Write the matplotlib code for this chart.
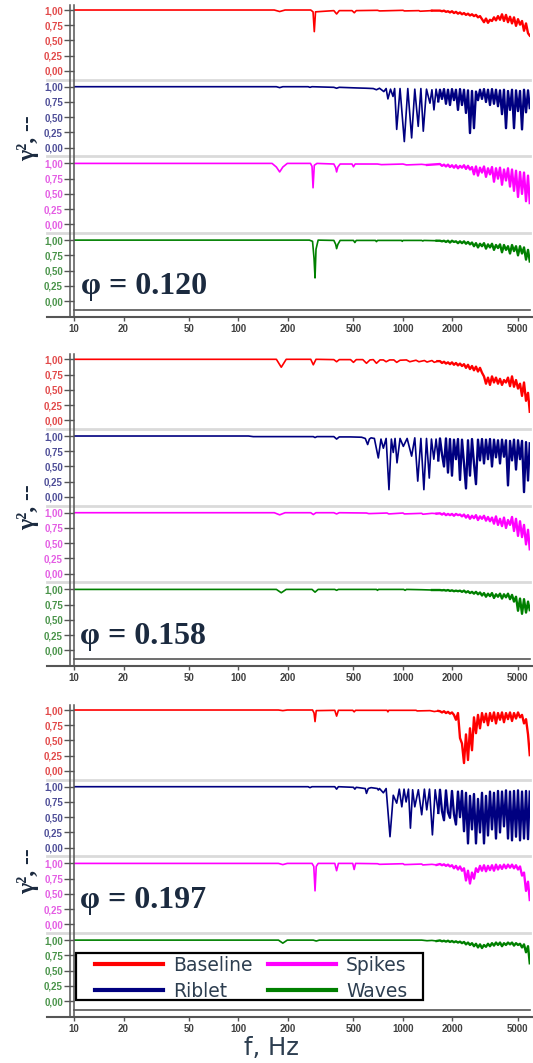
import matplotlib.pyplot as plt
from matplotlib.lines import Line2D
from matplotlib.patches import Rectangle
from matplotlib.ticker import NullLocator

plt.rcParams['font.family'] = ['Liberation Sans', 'DejaVu Sans']

# shared frequency bins of the dense high-frequency part (Hz)
f_hi = [1679, 1727, 1776, 1826, 1878, 1931, 1986, 2042, 2100, 2160,
        2222, 2285, 2350, 2416, 2485, 2555, 2628, 2702, 2779, 2858,
        2940, 3023, 3109, 3197, 3288, 3381, 3477, 3576, 3677, 3782,
        3890, 4000, 4113, 4230, 4350, 4475, 4602, 4732, 4867, 5005,
        5148, 5294, 5444, 5599, 5758, 5900]

# ---- phi = 0.120 ----
f_lo_b1 = [10, 165, 178, 192, 275, 284, 289, 294, 380, 395, 410, 490, 506, 520, 700, 720, 1000, 1020, 1250, 1270, 1500]
g_lo_b1 = [1.0, 1.0, 0.975, 1.0, 1.0, 0.97, 0.645, 0.97, 0.99, 0.935, 0.99, 0.99, 0.955, 0.99, 0.995, 0.985, 0.995, 0.985, 0.99, 0.98, 0.99]
g_hi_b1 = [0.99, 0.98, 0.99, 0.97, 0.98, 0.96, 0.98, 0.95, 0.97, 0.94, 0.96, 0.93,
           0.95, 0.92, 0.94, 0.91, 0.93, 0.90, 0.92, 0.88, 0.90,
           0.85, 0.80, 0.86, 0.79, 0.84, 0.82, 0.88, 0.83,
           0.90, 0.84, 0.93, 0.82, 0.92, 0.80, 0.89,
           0.78, 0.88, 0.74, 0.85, 0.76,
           0.82, 0.66, 0.78, 0.62, 0.58]

f_lo_r1 = [10, 170, 178, 186, 265, 272, 280, 380, 395, 410, 520, 600, 660, 690, 720, 765, 790, 810, 840, 870,
           890, 916, 960, 1019, 1070, 1129, 1180, 1238, 1285, 1329, 1390, 1459, 1500, 1543, 1590, 1639]
g_lo_r1 = [1.0, 1.0, 0.985, 1.0, 1.0, 0.99, 1.0, 0.99, 0.975, 0.99, 0.98, 0.975, 0.97, 0.95, 0.975, 0.92, 0.97, 0.80, 0.96, 0.84,
           0.97, 0.30, 0.97, 0.10, 0.97, 0.16, 0.96, 0.35, 0.97, 0.27, 0.96, 0.73, 0.95, 0.62, 0.96, 0.76]
g_hi_r1 = [0.95, 0.80, 0.96, 0.72, 0.95, 0.70, 0.96, 0.78, 0.95, 0.62,
           0.96, 0.70, 0.95, 0.57, 0.94, 0.24, 0.93, 0.32, 0.92, 0.78,
           0.95, 0.80, 0.96, 0.75, 0.95, 0.70, 0.96, 0.72, 0.95, 0.68,
           0.94, 0.55, 0.95, 0.32, 0.93, 0.62, 0.95, 0.32, 0.94, 0.60,
           0.93, 0.30, 0.95, 0.58, 0.94, 0.65]

f_lo_s1 = [10, 160, 170, 178, 186, 198, 274, 280, 284, 289, 300, 380, 390, 395, 402, 415, 490, 500, 512, 700, 740, 1000, 1050, 1300, 1400]
g_lo_s1 = [1.0, 1.0, 0.94, 0.86, 0.94, 1.0, 1.0, 0.95, 0.60, 0.97, 1.0, 0.99, 0.93, 0.86, 0.94, 0.99, 0.99, 0.945, 0.99, 0.99, 0.98, 0.99, 0.975, 0.985, 0.975]
g_hi_s1 = [0.99, 0.96, 0.98, 0.95, 0.98, 0.94, 0.97, 0.93, 0.97, 0.92, 0.96, 0.93, 0.97, 0.91, 0.96, 0.90,
           0.94, 0.82, 0.95, 0.80, 0.93, 0.85, 0.95, 0.78, 0.92, 0.82,
           0.94, 0.70, 0.92, 0.75, 0.93, 0.65, 0.90, 0.72, 0.92, 0.62,
           0.90, 0.55, 0.88, 0.45, 0.86, 0.50, 0.85, 0.38, 0.80, 0.35]

f_lo_w1 = [10, 270, 282, 288, 292, 296, 305, 380, 390, 395, 402, 415, 500, 510, 520, 680, 690, 700, 980, 990, 1000, 1300, 1320, 1340, 1600]
g_lo_w1 = [1.0, 1.0, 0.98, 0.70, 0.38, 0.85, 1.0, 0.995, 0.93, 0.86, 0.93, 0.995, 0.995, 0.96, 0.995, 0.995, 0.975, 0.995, 0.995, 0.98, 0.995, 0.995, 0.985, 0.995, 0.99]
g_hi_w1 = [0.99, 0.98, 0.99, 0.97, 0.99, 0.96, 0.99, 0.97, 0.98, 0.95, 0.98,
           0.95, 0.98, 0.94, 0.97, 0.93, 0.96, 0.90, 0.95, 0.88, 0.94,
           0.90, 0.95, 0.86, 0.93, 0.88, 0.94, 0.84, 0.92, 0.87, 0.93,
           0.80, 0.92, 0.84, 0.90, 0.78, 0.92, 0.82, 0.90,
           0.75, 0.90, 0.78, 0.88, 0.68, 0.84, 0.65]

# ---- phi = 0.158 ----
f_lo_b2 = [10, 170, 182, 195, 275, 285, 296, 380, 395, 410, 480, 500, 520, 570, 600, 630, 660, 690, 725, 760,
           790, 830, 880, 916, 960, 1050, 1100, 1200, 1250, 1350, 1400, 1500, 1550, 1620]
g_lo_b2 = [1.0, 1.0, 0.87, 1.0, 1.0, 0.91, 1.0, 0.995, 0.96, 0.995, 0.995, 0.95, 0.995, 0.995, 0.935, 0.99, 0.995, 0.935, 0.99, 0.99,
           0.96, 0.99, 0.99, 0.95, 0.985, 0.99, 0.96, 0.985, 0.96, 0.98, 0.955, 0.98, 0.95, 0.97]
g_hi_b2 = [0.97, 0.94, 0.96, 0.93, 0.95, 0.92, 0.95, 0.91, 0.94, 0.90, 0.93,
           0.89, 0.92, 0.86, 0.91, 0.84, 0.89, 0.82, 0.88, 0.80, 0.86, 0.78,
           0.72, 0.60, 0.70, 0.58, 0.72, 0.62, 0.70, 0.60, 0.68, 0.58, 0.66, 0.62, 0.70, 0.56,
           0.72, 0.55, 0.66, 0.52, 0.60,
           0.40, 0.62, 0.32, 0.45, 0.14]

f_lo_r2 = [10, 115, 123, 250, 285, 292, 300, 380, 395, 410, 480, 560, 590, 610, 625, 640, 670, 708, 735, 760,
           790, 822, 850, 873, 895, 920, 960, 1005, 1060, 1129, 1180, 1230, 1285, 1340, 1390, 1445, 1490, 1540, 1590, 1640]
g_lo_r2 = [1.0, 1.0, 0.99, 0.99, 0.99, 0.975, 0.99, 0.99, 0.95, 0.985, 0.985, 0.98, 0.96, 0.86, 0.95, 0.97, 0.96, 0.64, 0.95, 0.80,
           0.96, 0.12, 0.95, 0.73, 0.96, 0.56, 0.96, 0.83, 0.96, 0.67, 0.97, 0.26, 0.96, 0.12, 0.96, 0.31, 0.95, 0.62, 0.95, 0.60]
g_hi_r2 = [0.96, 0.70, 0.50, 0.96, 0.40, 0.95, 0.35, 0.94, 0.62, 0.95,
           0.28, 0.94, 0.55, 0.14, 0.93, 0.35, 0.95, 0.55, 0.21, 0.94,
           0.60, 0.95, 0.55, 0.94, 0.62, 0.95, 0.50, 0.94, 0.65, 0.93,
           0.55, 0.94, 0.66, 0.93, 0.19, 0.92, 0.60, 0.94, 0.45, 0.93,
           0.62, 0.92, 0.08, 0.90, 0.27, 0.88]

f_lo_s2 = [10, 165, 178, 192, 275, 285, 296, 380, 395, 410, 600, 620, 800, 820, 1000, 1020, 1300, 1320, 1500, 1600]
g_lo_s2 = [1.0, 1.0, 0.965, 1.0, 1.0, 0.97, 1.0, 1.0, 0.98, 1.0, 0.995, 0.985, 0.995, 0.98, 0.995, 0.98, 0.99, 0.975, 0.99, 0.985]
g_hi_s2 = [0.99, 0.97, 0.99, 0.96, 0.98, 0.96, 0.98, 0.95, 0.98, 0.96, 0.97, 0.94,
           0.97, 0.92, 0.96, 0.90, 0.95, 0.91, 0.96, 0.88, 0.94, 0.90, 0.95, 0.87, 0.93, 0.86,
           0.92, 0.82, 0.94, 0.80, 0.90, 0.78, 0.92, 0.75, 0.88, 0.80, 0.93,
           0.70, 0.90, 0.62, 0.86, 0.60, 0.80, 0.48, 0.72, 0.40]

f_lo_w2 = [10, 170, 182, 195, 280, 292, 305, 385, 395, 405, 690, 700, 710, 1010, 1030, 1050, 1300, 1500]
g_lo_w2 = [1.0, 1.0, 0.945, 1.0, 1.0, 0.955, 1.0, 1.0, 0.985, 1.0, 1.0, 0.985, 1.0, 1.0, 0.985, 1.0, 0.995, 0.99]
g_hi_w2 = [0.99, 0.985, 0.99, 0.98, 0.99, 0.975, 0.985, 0.97, 0.98, 0.97, 0.98,
           0.96, 0.98, 0.95, 0.97, 0.94, 0.96, 0.93, 0.96, 0.92, 0.95, 0.90,
           0.94, 0.88, 0.93, 0.89, 0.94, 0.86, 0.92, 0.88, 0.93, 0.85, 0.92, 0.87, 0.93, 0.84, 0.91,
           0.80, 0.88, 0.65, 0.85, 0.60, 0.84, 0.62, 0.80, 0.66]

# ---- phi = 0.197 ----
f_lo_b3 = [10, 175, 186, 198, 282, 288, 292, 297, 385, 395, 405, 495, 505, 515, 800, 810, 820, 1200, 1220, 1460, 1550, 1640]
g_lo_b3 = [1.0, 1.0, 0.99, 1.0, 1.0, 0.95, 0.81, 0.99, 0.995, 0.90, 0.995, 0.995, 0.97, 0.995, 0.995, 0.97, 0.995, 0.995, 0.985, 0.99, 0.975, 0.985]
g_hi_b3 = [0.98, 0.96, 0.98, 0.95, 0.97, 0.94, 0.96, 0.92,
           0.84, 0.95, 0.54, 0.45, 0.13, 0.60, 0.18, 0.70, 0.34, 0.88, 0.62, 0.92,
           0.70, 0.95, 0.80, 0.94, 0.75, 0.95, 0.82, 0.96, 0.78, 0.95,
           0.84, 0.96, 0.80, 0.95, 0.85, 0.96, 0.82, 0.95, 0.86, 0.96,
           0.88, 0.92, 0.78, 0.85, 0.60, 0.26]

f_lo_r3 = [10, 265, 272, 280, 385, 395, 405, 500, 510, 520, 590, 600, 615, 640, 700, 708, 720, 760, 790, 834,
           873, 916, 950, 984, 1015, 1045, 1080, 1110, 1145, 1180, 1240, 1300, 1350, 1395, 1450, 1510, 1570, 1640]
g_lo_r3 = [1.0, 1.0, 0.985, 1.0, 1.0, 0.96, 1.0, 0.99, 0.96, 0.99, 0.97, 0.89, 0.97, 0.985, 0.97, 0.945, 0.97, 0.90, 0.97, 0.18,
           0.86, 0.73, 0.96, 0.67, 0.96, 0.75, 0.96, 0.32, 0.95, 0.67, 0.95, 0.54, 0.96, 0.62, 0.96, 0.21, 0.95, 0.57]
g_hi_r3 = [0.95, 0.60, 0.45, 0.94, 0.58, 0.49, 0.93, 0.55, 0.38, 0.92,
           0.50, 0.93, 0.27, 0.90, 0.07, 0.85, 0.30, 0.88, 0.07, 0.80,
           0.25, 0.90, 0.07, 0.85, 0.20, 0.92, 0.30, 0.90, 0.15, 0.93,
           0.25, 0.92, 0.35, 0.94, 0.15, 0.92, 0.12, 0.93, 0.18, 0.94,
           0.12, 0.92, 0.15, 0.93, 0.14, 0.92]

f_lo_s3 = [10, 175, 186, 198, 280, 287, 292, 297, 305, 385, 395, 405, 495, 505, 515, 700, 720, 1000, 1020, 1300, 1320, 1500, 1600]
g_lo_s3 = [1.0, 1.0, 0.98, 1.0, 1.0, 0.95, 0.55, 0.95, 1.0, 1.0, 0.88, 1.0, 1.0, 0.90, 1.0, 0.995, 0.985, 0.995, 0.98, 0.99, 0.975, 0.985, 0.975]
g_hi_s3 = [0.99, 0.97, 0.985, 0.96, 0.98, 0.95,
           0.97, 0.92, 0.96, 0.90, 0.95, 0.88,
           0.92, 0.72, 0.88, 0.67, 0.85, 0.75, 0.92,
           0.86, 0.96, 0.88, 0.97, 0.87, 0.96, 0.89, 0.97, 0.88, 0.98,
           0.90, 0.97, 0.91, 0.98, 0.92, 0.98, 0.93, 0.98, 0.92, 0.97, 0.90,
           0.95, 0.80, 0.85, 0.55, 0.70, 0.40]

f_lo_w3 = [10, 175, 186, 198, 285, 297, 310, 1300, 1400, 1500, 1600]
g_lo_w3 = [1.0, 1.0, 0.95, 1.0, 1.0, 0.985, 1.0, 1.0, 0.99, 0.995, 0.985]
g_hi_w3 = [0.995, 0.98, 0.99, 0.975, 0.99, 0.97, 0.985, 0.965, 0.98, 0.96, 0.975,
           0.95, 0.97, 0.93, 0.96, 0.92, 0.95, 0.90, 0.94, 0.88, 0.93, 0.87, 0.92, 0.89, 0.94,
           0.90, 0.95, 0.91, 0.96, 0.92, 0.96, 0.90, 0.95, 0.92, 0.96, 0.93, 0.96, 0.91, 0.95, 0.92, 0.94, 0.88, 0.93,
           0.80, 0.90, 0.62]

series_names = ['Baseline', 'Riblet', 'Spikes', 'Waves']
line_colors = ['#ff0000', '#000080', '#ff00ff', '#008000']
label_colors = ['#e24a4a', '#4e4e98', '#e45ee4', '#4a944a']
phi_labels = ['φ = 0.120', 'φ = 0.158', 'φ = 0.197']
x_ticks = [10, 20, 50, 100, 200, 500, 1000, 2000, 5000]
y_ticks = [0, 0.25, 0.5, 0.75, 1.0]

panels = [
    [(f_lo_b1, g_lo_b1, g_hi_b1), (f_lo_r1, g_lo_r1, g_hi_r1),
     (f_lo_s1, g_lo_s1, g_hi_s1), (f_lo_w1, g_lo_w1, g_hi_w1)],
    [(f_lo_b2, g_lo_b2, g_hi_b2), (f_lo_r2, g_lo_r2, g_hi_r2),
     (f_lo_s2, g_lo_s2, g_hi_s2), (f_lo_w2, g_lo_w2, g_hi_w2)],
    [(f_lo_b3, g_lo_b3, g_hi_b3), (f_lo_r3, g_lo_r3, g_hi_r3),
     (f_lo_s3, g_lo_s3, g_hi_s3), (f_lo_w3, g_lo_w3, g_hi_w3)],
]

# layout in pixels
W, H = 533, 1063
AX_L, AX_R = 74, 530
SUB_H = 76.7
panel_tops = [3, 352.3, 703]
ylabel_y = [138, 507, 871]
phi_pos = [(81, 294), (80, 644), (80, 908)]
DARK = '#555555'
NAVY_TXT = '#1b2a3f'

fig = plt.figure(figsize=(W / 100, H / 100), dpi=100)


def fx(px):
    return px / W


def fy(py):
    return 1 - py / H


def fig_line(x0, x1, y0, y1, **kw):
    fig.add_artist(Line2D([fx(x0), fx(x1)], [fy(y0), fy(y1)],
                          transform=fig.transFigure, **kw))


for p, top in enumerate(panel_tops):
    for k in range(4):
        f_lo, g_lo, g_hi = panels[p][k]
        ax = fig.add_axes([fx(AX_L), fy(top + (k + 1) * SUB_H),
                           (AX_R - AX_L) / W, SUB_H / H])
        ax.plot(f_lo, g_lo, color=line_colors[k], lw=1.2)
        # dense noisy part drawn a bit heavier, as in the original export
        ax.plot(f_lo[-1:] + f_hi, g_lo[-1:] + g_hi, color=line_colors[k], lw=1.7)
        ax.set_xscale('log')
        ax.set_xlim(10, 5920)
        ax.set_ylim(-0.143, 1.115)
        ax.patch.set_alpha(0)
        for s in ['top', 'right', 'left', 'bottom']:
            ax.spines[s].set_visible(False)
        ax.set_yticks(y_ticks, labels=[f'{v:.2f}'.replace('.', ',') for v in y_ticks],
                      fontsize=7, fontweight='bold', color=label_colors[k])
        ax.tick_params(axis='y', length=7, width=1, color=DARK, pad=1)
        ax.xaxis.set_minor_locator(NullLocator())
        if k == 3:
            ax.spines['bottom'].set_position(('outward', 7 * 0.72))
            ax.set_xticks(x_ticks, labels=[str(v) for v in x_ticks],
                          fontsize=7, fontweight='bold', color='#404040')
            ax.tick_params(axis='x', length=3, width=1, color=DARK, pad=2)
        else:
            ax.tick_params(axis='x', bottom=False, labelbottom=False)

    bottom = top + 4 * SUB_H
    # light separators between the four strips
    for k in range(1, 4):
        fig_line(47, AX_R, top + k * SUB_H, top + k * SUB_H, color='#dadada', lw=2.0)
    # frame bottom, x axis line, double left axis line
    fig_line(AX_L, AX_R, bottom, bottom, color=DARK, lw=1.2)
    fig_line(47, 533, bottom + 7, bottom + 7, color=DARK, lw=1.5)
    fig_line(70, 70, top + 2, bottom + 7, color=DARK, lw=1.1)
    fig_line(AX_L, AX_L, top + 2, bottom + 7, color=DARK, lw=1.1)

    fig.text(fx(28), fy(ylabel_y[p]), 'γ², --', rotation=90, ha='center', va='center',
             family=['Liberation Serif', 'DejaVu Serif'], fontweight='bold', fontsize=17,
             color=NAVY_TXT)
    px, py = phi_pos[p]
    fig.text(fx(px), fy(py), phi_labels[p], ha='left', va='baseline',
             family=['Liberation Serif', 'DejaVu Serif'], fontweight='bold', fontsize=23,
             color=NAVY_TXT)

# legend box and entries in the last strip
fig.add_artist(Rectangle((fx(76), fy(1000)), (423 - 76) / W, (1000 - 952.7) / H,
                         transform=fig.transFigure, facecolor='white',
                         edgecolor='black', lw=1.6, zorder=3))
handles = [Line2D([], [], color=c, lw=3) for c in line_colors]
fig.legend(handles, series_names, ncol=2, loc='upper left',
           bbox_to_anchor=(fx(95), fy(956)), frameon=False, borderpad=0,
           borderaxespad=0, handlelength=3.6, handletextpad=0.55,
           columnspacing=0.85, labelspacing=0.36,
           prop={'family': 'DejaVu Sans', 'size': 13.5}, labelcolor='#2d3e50')

fig.text(fx(271), fy(1048), 'f, Hz', ha='center', va='center',
         family='DejaVu Sans', fontsize=17.5, color='#2d3e50')

fig.savefig('out.png', dpi=100)
